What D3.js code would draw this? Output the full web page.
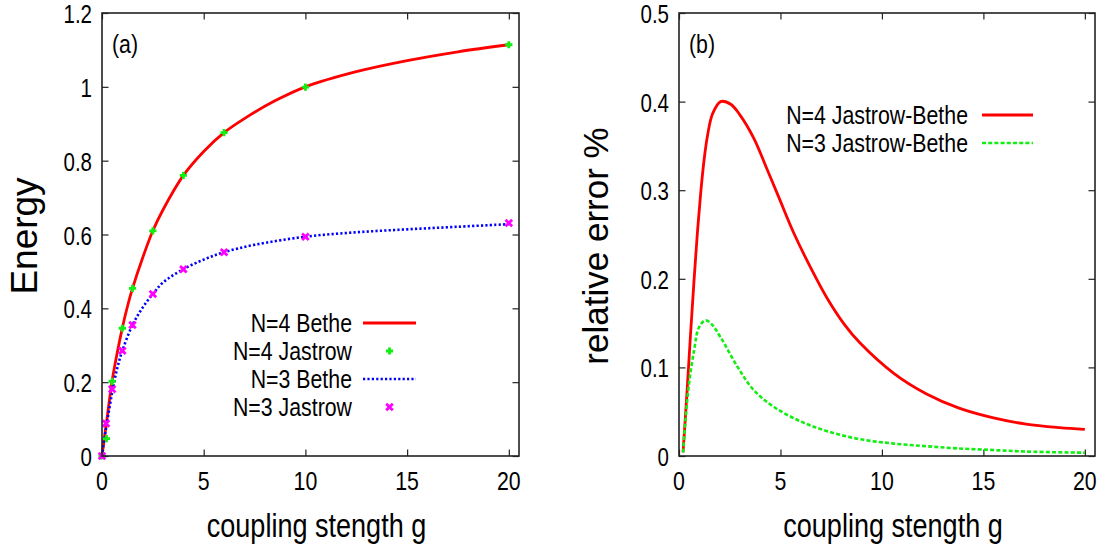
<!DOCTYPE html>
<html>
<head>
<meta charset="utf-8">
<script src="https://cdn.jsdelivr.net/npm/d3@7"></script>
<style>
  html, body { margin: 0; padding: 0; background: #fff; }
  svg { display: block; }
</style>
</head>
<body>
<svg id="chart" width="1102" height="552"></svg>
<script>
// ---- panel (a): ground-state energy vs coupling ----
const betheN4G = [0, 0.25, 0.5, 0.75, 1, 1.25, 1.5, 2, 2.5, 3, 4, 5, 6, 7, 8.5, 10, 12.5, 15, 17.5, 20];
const betheN4E = [0, 0.103, 0.204, 0.28, 0.347, 0.405, 0.454, 0.537, 0.61, 0.667, 0.76, 0.825, 0.876, 0.914, 0.962, 1.0, 1.041, 1.071, 1.095, 1.114];
const betheN3G = [0, 0.1, 0.25, 0.5, 0.75, 1, 1.5, 2, 2.5, 3, 4, 5, 6, 7.5, 10, 12.5, 15, 17.5, 20];
const betheN3E = [0, 0.042, 0.092, 0.172, 0.238, 0.285, 0.355, 0.402, 0.439, 0.47, 0.506, 0.532, 0.552, 0.572, 0.594, 0.606, 0.614, 0.621, 0.628];
const jastrowN4G = [0, 0.22, 0.5, 1, 1.5, 2.5, 4, 6, 10, 20];
const jastrowN4E = [0, 0.047, 0.202, 0.346, 0.454, 0.61, 0.76, 0.876, 0.999, 1.114];
const jastrowN3G = [0, 0.2, 0.5, 1, 1.5, 2.5, 4, 6, 10, 20];
const jastrowN3E = [0, 0.088, 0.181, 0.285, 0.355, 0.439, 0.506, 0.552, 0.594, 0.631];

// ---- panel (b): relative error of the Jastrow energy ----
const errN4G = [0.2, 0.4, 0.57, 0.74, 0.9, 1.07, 1.23, 1.4, 1.65, 2.05, 2.55, 3.0, 3.7, 4.35, 4.9, 5.65, 6.5, 7.3, 8.1, 8.9, 10.6, 12.2, 13.8, 15.5, 17.1, 18.75, 20];
const errN4V = [0.004, 0.074, 0.138, 0.198, 0.25, 0.297, 0.333, 0.361, 0.386, 0.400, 0.397, 0.385, 0.358, 0.323, 0.293, 0.252, 0.212, 0.178, 0.150, 0.128, 0.093, 0.070, 0.054, 0.043, 0.036, 0.032, 0.030];
const errN3G = [0.2, 0.33, 0.49, 0.74, 0.98, 1.3, 1.6, 2.05, 2.9, 3.7, 4.7, 6.0, 7.3, 8.9, 10.6, 12.2, 13.8, 15.5, 17.1, 20];
const errN3V = [0.004, 0.043, 0.081, 0.119, 0.145, 0.153, 0.149, 0.134, 0.10, 0.074, 0.055, 0.039, 0.028, 0.019, 0.014, 0.011, 0.0085, 0.0067, 0.005, 0.0037];

// ---- axis ticks and text ----
const xTicks = [0, 5, 10, 15, 20];
const yTicksA = [0, 0.2, 0.4, 0.6, 0.8, 1, 1.2];
const yTicksB = [0, 0.1, 0.2, 0.3, 0.4, 0.5];
const xTitle = "coupling stength g";
const yTitleA = "Energy";
const yTitleB = "relative error %";
const legendA = ["N=4 Bethe", "N=4 Jastrow", "N=3 Bethe", "N=3 Jastrow"];
const legendB = ["N=4 Jastrow-Bethe", "N=3 Jastrow-Bethe"];

const svg = d3.select("#chart");
svg.append("rect").attr("width", 1102).attr("height", 552).attr("fill", "#fff");

const FONT = "'Liberation Sans', Arial, Helvetica, sans-serif";
const SQUEEZE = 0.82; // condensed look for the sans face

function label(parent, x, y, str, opts) {
  const o = Object.assign({ size: 26, anchor: "start", rotate: 0, narrow: true }, opts || {});
  const sx = o.narrow ? SQUEEZE : 1;
  const g = parent.append("g")
    .attr("transform", `translate(${x},${y}) rotate(${o.rotate}) scale(${sx},1)`);
  g.append("text")
    .attr("font-family", FONT)
    .attr("font-size", o.size)
    .attr("text-anchor", o.anchor)
    .attr("fill", "#000")
    .text(str);
  return g;
}

const zip = (xs, ys) => xs.map((x, i) => [x, ys[i]]);

function plusMarker(g, x, y, color) {
  const s = 3.6;
  g.append("path").attr("d", `M${x - s},${y}H${x + s}M${x},${y - s}V${y + s}`)
    .attr("stroke", color).attr("stroke-width", 2.8).attr("fill", "none");
}
function crossMarker(g, x, y, color) {
  const s = 3.3;
  g.append("path").attr("d", `M${x - s},${y - s}L${x + s},${y + s}M${x - s},${y + s}L${x + s},${y - s}`)
    .attr("stroke", color).attr("stroke-width", 2.8).attr("fill", "none");
}

function panel(cfg) {
  const x = d3.scaleLinear().domain([0, 20.5]).range([cfg.left, cfg.right]);
  const y = d3.scaleLinear().domain([0, cfg.yMax]).range([cfg.bottom, cfg.top]);
  const g = svg.append("g");
  const frame = "#222";

  // ticks pointing inward on all four sides
  const tickLen = 6.5;
  const axB = d3.axisBottom(x).tickValues(xTicks).tickSize(-tickLen).tickFormat("");
  const axT = d3.axisTop(x).tickValues(xTicks).tickSize(-tickLen).tickFormat("");
  const axL = d3.axisLeft(y).tickValues(cfg.yTicks).tickSize(-tickLen).tickFormat("");
  const axR = d3.axisRight(y).tickValues(cfg.yTicks).tickSize(-tickLen).tickFormat("");
  [[axB, `translate(0,${cfg.bottom})`], [axT, `translate(0,${cfg.top})`],
   [axL, `translate(${cfg.left},0)`], [axR, `translate(${cfg.right},0)`]].forEach(([ax, tr]) => {
    const a = g.append("g").attr("transform", tr).call(ax);
    a.select(".domain").remove();
    a.selectAll(".tick line").attr("stroke", frame).attr("stroke-width", 1.2);
  });

  // tick labels
  xTicks.forEach(v => label(g, x(v), cfg.bottom + 34, String(v), { anchor: "middle" }));
  cfg.yTicks.forEach(v => label(g, cfg.left - 10, y(v) + 10, String(v), { anchor: "end", size: 25 }));

  // data
  const line = d3.line().x(d => x(d[0])).y(d => y(d[1])).curve(d3.curveCatmullRom.alpha(0.5));
  const plot = g.append("g");
  cfg.lines.forEach(s => {
    plot.append("path").datum(s.data).attr("d", line)
      .attr("fill", "none").attr("stroke", s.color).attr("stroke-width", s.width)
      .attr("stroke-dasharray", s.dash || null)
      .attr("stroke-linejoin", "round");
  });
  (cfg.points || []).forEach(s => {
    s.data.forEach(d => s.marker(plot, x(d[0]), y(d[1]), s.color));
  });

  // frame
  g.append("rect").attr("x", cfg.left).attr("y", cfg.top)
    .attr("width", cfg.right - cfg.left).attr("height", cfg.bottom - cfg.top)
    .attr("fill", "none").attr("stroke", frame).attr("stroke-width", 1.6);

  // titles
  label(g, cfg.left + 10, 53, cfg.tag, { size: 26 });
  label(g, (cfg.left + cfg.right) / 2 + 6, 537, xTitle, { anchor: "middle", size: 33 });
  label(g, cfg.yTitleX, cfg.yTitleY, cfg.yTitle, { anchor: "middle", size: cfg.yTitleSize, rotate: -90, narrow: false });

  // legend
  cfg.legend.forEach((item, i) => {
    const cy = cfg.legendY + i * 28;
    label(g, cfg.legendTextX, cy + 9, item.text, { anchor: "end" });
    if (item.line) {
      g.append("line").attr("x1", cfg.legendLine[0]).attr("x2", cfg.legendLine[1])
        .attr("y1", cy).attr("y2", cy)
        .attr("stroke", item.line.color).attr("stroke-width", item.line.width)
        .attr("stroke-dasharray", item.line.dash || null);
    } else {
      item.point.marker(g, (cfg.legendLine[0] + cfg.legendLine[1]) / 2, cy, item.point.color);
    }
  });
}

const red = "#ff0000", blue = "#0000ff", green = "#11ee11", magenta = "#ff00ff";

const sN4 = { data: zip(betheN4G, betheN4E), color: red, width: 2.8 };
const sN3 = { data: zip(betheN3G, betheN3E), color: blue, width: 2.6, dash: "2.2,2.2" };
const pN4 = { data: zip(jastrowN4G, jastrowN4E), color: green, marker: plusMarker };
const pN3 = { data: zip(jastrowN3G, jastrowN3E), color: magenta, marker: crossMarker };

panel({
  left: 102, right: 519, top: 13, bottom: 456, yMax: 1.2, yTicks: yTicksA, tag: "(a)",
  yTitle: yTitleA, yTitleX: 37, yTitleY: 236, yTitleSize: 37,
  lines: [sN4, sN3], points: [pN4, pN3],
  legendY: 323, legendTextX: 352, legendLine: [363, 416],
  legend: [
    { text: legendA[0], line: sN4 },
    { text: legendA[1], point: pN4 },
    { text: legendA[2], line: sN3 },
    { text: legendA[3], point: pN3 }
  ]
});

const eN4 = { data: zip(errN4G, errN4V), color: red, width: 2.8 };
const eN3 = { data: zip(errN3G, errN3V), color: green, width: 2.6, dash: "4,2.2" };

panel({
  left: 679, right: 1095, top: 13, bottom: 456, yMax: 0.5, yTicks: yTicksB, tag: "(b)",
  yTitle: yTitleB, yTitleX: 608, yTitleY: 246, yTitleSize: 35,
  lines: [eN4, eN3],
  legendY: 115, legendTextX: 968, legendLine: [982, 1033],
  legend: [
    { text: legendB[0], line: eN4 },
    { text: legendB[1], line: eN3 }
  ]
});
</script>
</body>
</html>
